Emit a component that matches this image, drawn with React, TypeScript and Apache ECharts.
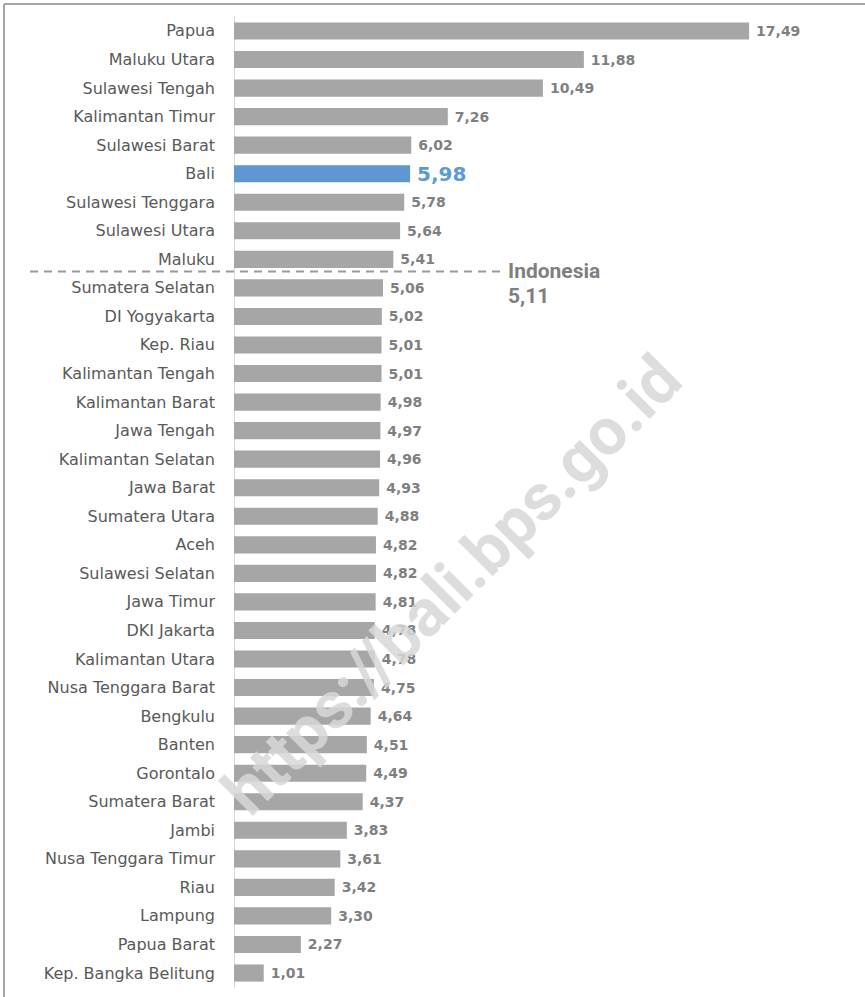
import React, { useEffect, useRef } from "react";
import * as echarts from "echarts";

const provinces = [
  "Papua", "Maluku Utara", "Sulawesi Tengah", "Kalimantan Timur", "Sulawesi Barat", "Bali",
  "Sulawesi Tenggara", "Sulawesi Utara", "Maluku", "Sumatera Selatan", "DI Yogyakarta", "Kep. Riau",
  "Kalimantan Tengah", "Kalimantan Barat", "Jawa Tengah", "Kalimantan Selatan", "Jawa Barat",
  "Sumatera Utara", "Aceh", "Sulawesi Selatan", "Jawa Timur", "DKI Jakarta", "Kalimantan Utara",
  "Nusa Tenggara Barat", "Bengkulu", "Banten", "Gorontalo", "Sumatera Barat", "Jambi",
  "Nusa Tenggara Timur", "Riau", "Lampung", "Papua Barat", "Kep. Bangka Belitung",
];
const values = [
  17.49, 11.88, 10.49, 7.26, 6.02, 5.98, 5.78, 5.64, 5.41, 5.06, 5.02, 5.01, 5.01, 4.98, 4.97,
  4.96, 4.93, 4.88, 4.82, 4.82, 4.81, 4.78, 4.78, 4.75, 4.64, 4.51, 4.49, 4.37, 3.83, 3.61, 3.42,
  3.3, 2.27, 1.01,
];
const highlight = "Bali";
const nationalName = "Indonesia";
const nationalValue = 5.11;
const watermark = "https://bali.bps.go.id";

const fmt = (v: number) => v.toFixed(2).replace(".", ",");

export default function App() {
  const ref = useRef<HTMLDivElement>(null);
  useEffect(() => {
    if (!ref.current) return;
    const chart = echarts.init(ref.current, undefined, { renderer: "svg" });
    const FONT = "DejaVu Sans";
    chart.setOption({
      animation: false,
      backgroundColor: "#ffffff",
      grid: { left: 234, top: 16.7, width: 589, height: 970.6, containLabel: false },
      xAxis: {
        type: "value",
        min: 0,
        max: 20,
        show: false,
      },
      yAxis: {
        type: "category",
        data: provinces,
        inverse: true,
        axisLine: { show: true, lineStyle: { color: "#d9d9d9", width: 1 } },
        axisTick: { show: false },
        axisLabel: { color: "#595959", fontSize: 16, fontFamily: FONT, margin: 19 },
      },
      series: [
        {
          type: "bar",
          barCategoryGap: "40%",
          data: values.map((v, i) => {
            const isHi = provinces[i] === highlight;
            return {
              value: v,
              itemStyle: { color: isHi ? "#5f97d0" : "#a6a6a6" },
              label: isHi
                ? { color: "#5b9bd5", fontSize: 20, fontWeight: "bold" }
                : undefined,
            };
          }),
          label: {
            show: true,
            position: "right",
            distance: 7,
            color: "#7f7f7f",
            fontSize: 14,
            fontWeight: "bold",
            fontFamily: FONT,
            formatter: (p: any) => fmt(p.value),
          },
        },
      ],
    });
    const idx = 8;
    const y1 = chart.convertToPixel({ yAxisIndex: 0 }, provinces[idx]) as number;
    const y2 = chart.convertToPixel({ yAxisIndex: 0 }, provinces[idx + 1]) as number;
    const yLine = (y1 + y2) / 2 - 2;
    chart.setOption({
      graphic: [
        { type: "line", shape: { x1: 4, y1: 4, x2: 870, y2: 4 }, style: { stroke: "#a6a6a6", lineWidth: 2 }, z: 100 },
        { type: "line", shape: { x1: 4, y1: 4, x2: 4, y2: 1000 }, style: { stroke: "#a6a6a6", lineWidth: 2 }, z: 100 },
        {
          type: "line",
          shape: { x1: 30, y1: yLine, x2: 500, y2: yLine },
          style: { stroke: "#999999", lineWidth: 2, lineDash: [8, 6] },
          z: 100,
        },
        {
          type: "text",
          x: 508,
          y: yLine - 11,
          style: { text: nationalName, fill: "#7f7f7f", font: "bold 21px Roboto" },
          z: 100,
        },
        {
          type: "text",
          x: 508,
          y: yLine + 14,
          style: { text: fmt(nationalValue), fill: "#7f7f7f", font: "bold 21px Roboto" },
          z: 100,
        },
        {
          type: "text",
          x: 452,
          y: 585,
          rotation: Math.PI / 4,
          style: {
            text: watermark,
            fill: "rgba(215,215,215,0.85)",
            font: "bold 66px Roboto",
            align: "center",
            verticalAlign: "middle",
          },
          z: 200,
        },
      ],
    });
    return () => chart.dispose();
  }, []);
  return (
    <div
      ref={ref}
      style={{ position: "fixed", left: 0, top: 0, width: 865, height: 997 }}
    />
  );
}
